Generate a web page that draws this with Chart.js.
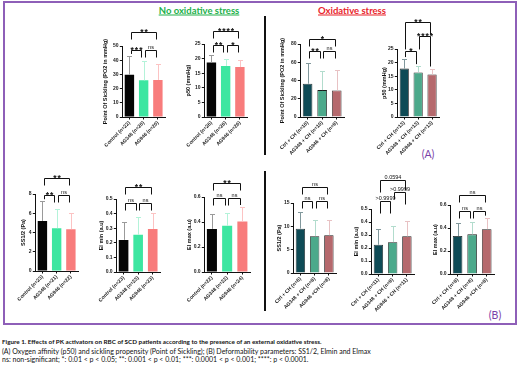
<!DOCTYPE html>
<html><head><meta charset="utf-8">
<script src="https://cdn.jsdelivr.net/npm/chart.js@4/dist/chart.umd.min.js"></script>
<style>
html,body{margin:0;padding:0;background:#fff}
body{width:520px;height:366px;position:relative;overflow:hidden;font-family:"Liberation Sans",Arial,sans-serif}
.frame{position:absolute;left:3px;top:1px;width:514px;height:324px;border:2px solid #8e5fb8;box-sizing:border-box}
.vline{position:absolute;width:1.5px;background:#111}
.ttl{position:absolute;font-family:Lato,"Liberation Sans",sans-serif;font-weight:bold;font-size:9.5px;text-decoration:underline;transform:translate(-50%,-50%);white-space:nowrap}
.tag{position:absolute;font-family:Lato,"Liberation Sans",sans-serif;font-size:10.5px;color:#7a3fa8;transform:translate(-50%,-50%)}
.cap{position:absolute;left:2px;font-family:Lato,"Liberation Sans",sans-serif;font-size:7px;line-height:8px;white-space:nowrap;color:#111}
canvas{position:absolute}
</style>
</head><body>
<div class="frame"></div>
<div class="vline" style="left:264px;top:16px;height:139px"></div>
<div class="vline" style="left:264px;top:171px;height:140px"></div>
<div class="ttl" style="left:199px;top:10px;color:#22b04b">No oxidative stress</div>
<div class="ttl" style="left:352px;top:10px;color:#e8242b">Oxidative stress</div>
<div class="tag" style="left:428px;top:154px">(A)</div>
<div class="tag" style="left:495px;top:315px">(B)</div>
<div class="cap" style="top:338px;font-weight:bold;font-size:6.3px">Figure 1. Effects of PK activators on RBC of SCD patients according to the presence of an external oxidative stress.</div>
<div class="cap" style="top:346.5px">(A) Oxygen affinity (p50) and sickling propensity (Point of Sickling); (B) Deformability parameters: SS1/2, Elmin and Elmax</div>
<div class="cap" style="top:355px">ns: non-significant; *: 0.01 &lt; p &lt; 0.05; **: 0.001 &lt; p &lt; 0.01; ***: 0.0001 &lt; p &lt; 0.001; ****: p &lt; 0.0001.</div>
<script>
// ---------- data ----------
const sickNoLabels = ['Control (n=22)','AG348 (n=20)','AG946 (n=20)'];
const sickNoMean = [29.8, 25.8, 26.1];
const sickNoSD = [13.2, 13.4, 11.4];
const sickNoSig = [[0,1,'***',47],[1,2,'ns',47],[0,2,'**',60]];

const p50NoLabels = ['Control (n=26)','AG348 (n=26)','AG946 (n=26)'];
const p50NoMean = [18.7, 17.5, 17.1];
const p50NoSD = [2.4, 2.2, 2.4];
const p50NoSig = [[0,1,'**',24.7],[1,2,'*',24.7],[0,2,'****',29.5]];

const sickOxLabels = ['Ctrl + CH (n=10)','AG348 + CH (n=10)','AG946 + CH (n=9)'];
const sickOxMean = [36.5, 29.5, 29.0];
const sickOxSD = [22.5, 20.5, 23.0];
const sickOxSig = [[0,1,'**',72],[1,2,'ns',72],[0,2,'*',85.5]];

const p50OxLabels = ['Ctrl + CH (n=13)','AG348 + CH (n=13)','AG946 + CH (n=13)'];
const p50OxMean = [17.8, 16.4, 15.6];
const p50OxSD = [3.5, 2.3, 2.2];
const p50OxSig = [[0,1,'*',24.1],[1,2,'****',29.6],[0,2,'**',34.8]];

const ssNoLabels = ['Control (n=23)','AG348 (n=21)','AG946 (n=22)'];
const ssNoMean = [5.2, 4.45, 4.35];
const ssNoSD = [2.05, 1.95, 1.65];
const ssNoSig = [[0,1,'**',7.9],[1,2,'ns',7.9],[0,2,'**',9.7]];

const eiMinNoLabels = ['Control (n=23)','AG348 (n=23)','AG946 (n=23)'];
const eiMinNoMean = [0.22, 0.255, 0.295];
const eiMinNoSD = [0.125, 0.12, 0.11];
const eiMinNoSig = [[0,1,'ns',0.47],[1,2,'ns',0.47],[0,2,'**',0.58]];

const eiMaxNoLabels = ['Control (n=22)','AG348 (n=22)','AG946 (n=24)'];
const eiMaxNoMean = [0.345, 0.37, 0.405];
const eiMaxNoSD = [0.12, 0.10, 0.115];
const eiMaxNoSig = [[0,1,'ns',0.59],[1,2,'ns',0.59],[0,2,'**',0.71]];

const ssOxLabels = ['Ctrl + CH (n=8)','AG348 + CH (n=8)','AG946 +CH (n=8)'];
const ssOxMean = [9.5, 7.9, 8.1];
const ssOxSD = [3.5, 3.4, 3.3];
const ssOxSig = [[0,1,'ns',15.5],[1,2,'ns',15.5],[0,2,'ns',18.5]];

const eiMinOxLabels = ['Ctrl + CH (n=11)','AG348 + CH (n=9)','AG946 + CH (n=11)'];
const eiMinOxMean = [0.225, 0.245, 0.29];
const eiMinOxSD = [0.12, 0.125, 0.115];
const eiMinOxSig = [[0,1,'>0.9999',0.56],[1,2,'>0.9999',0.63],[0,2,'0.0594',0.72]];

const eiMaxOxLabels = ['Ctrl + CH (n=8)','AG348 + CH (n=8)','AG946 +CH (n=8)'];
const eiMaxOxMean = [0.33, 0.345, 0.39];
const eiMaxOxSD = [0.115, 0.105, 0.10];
const eiMaxOxSig = [[0,1,'ns',0.55],[1,2,'ns',0.55],[0,2,'ns',0.69]];

// ---------- styles ----------
const FONT = '"Liberation Sans", Arial, sans-serif';
const NO_COL = ['#050505','#3de6a1','#f87c7c'];
const NO_ERR = ['#9a9a9a','#b4f3d9','#fcc3c3'];
const OX_COL = ['#0f4b56','#4ca98b','#b5696d'];
const OX_ERR = ['#81989c','#b2dccd','#e8c2c4'];

const errPlugin = {
  id:'err',
  afterDatasetsDraw(chart, args, o){
    if(!o.sd) return;
    const ctx = chart.ctx, ys = chart.scales.y;
    const meta = chart.getDatasetMeta(0);
    const vals = chart.data.datasets[0].data;
    ctx.save(); ctx.lineWidth = 1;
    meta.data.forEach((bar,i)=>{
      const x = Math.round(bar.x)+0.5;
      const top = Math.round(ys.getPixelForValue(vals[i]+o.sd[i]))+0.5;
      ctx.strokeStyle = o.colors[i];
      ctx.beginPath();
      ctx.moveTo(x, bar.y); ctx.lineTo(x, top);
      ctx.moveTo(x-2.5, top); ctx.lineTo(x+2.5, top);
      ctx.stroke();
    });
    ctx.restore();
  }
};

const sigPlugin = {
  id:'sig',
  afterDraw(chart, args, o){
    if(!o.list) return;
    const ctx = chart.ctx, xs = chart.scales.x, ys = chart.scales.y;
    const vals = chart.data.datasets[0].data;
    const tops = vals.map((m,i)=>m+o.sd[i]);
    ctx.save(); ctx.strokeStyle='#111'; ctx.fillStyle='#111'; ctx.lineWidth=1;
    o.list.forEach(([a,b,lab,lev],k)=>{
      const py = Math.round(ys.getPixelForValue(lev))+0.5;
      const xa = Math.round(xs.getPixelForValue(a)+1.2)+0.5;
      const xb = Math.round(xs.getPixelForValue(b)-1.2)-0.5;
      const legEnd = (i)=>{
        let m = tops[i];
        o.list.forEach(([a2,b2,l2,lv2],j)=>{ if(j!==k && lv2<lev && a2<=i && i<=b2) m=Math.max(m,lv2); });
        const pm = ys.getPixelForValue(m);
        return Math.max(py+1, Math.min(py+o.leg, pm-o.gap));
      };
      ctx.beginPath();
      ctx.moveTo(xa, legEnd(a)); ctx.lineTo(xa, py); ctx.lineTo(xb, py); ctx.lineTo(xb, legEnd(b));
      ctx.stroke();
      const cx = (xa+xb)/2;
      ctx.textAlign='center'; ctx.textBaseline='alphabetic';
      if(lab.indexOf('*')>=0){
        ctx.font = 'bold 8.5px '+FONT;
        ctx.letterSpacing = '1px';
        ctx.fillText(lab, cx+0.5, py+2);
        ctx.letterSpacing = '0px';
      } else {
        ctx.font = '5.5px '+FONT;
        ctx.fillText(lab, cx, py-2);
      }
    });
    ctx.restore();
  }
};
Chart.register(errPlugin, sigPlugin);

function makeChart(g){
  const pt=40, padL=22, pr=8, xH=46;
  const yW = g.d + 3.3;
  const cw = Math.round(padL + yW + (g.x1-g.x0) + pr);
  const ch = Math.round(pt + (g.yBot-g.yTop) + xH);
  const cv = document.createElement('canvas');
  cv.width = cw; cv.height = ch;
  cv.style.left = (g.x0 - yW - padL)+'px';
  cv.style.top = (g.yTop - pt)+'px';
  cv.style.width = cw+'px'; cv.style.height = ch+'px';
  document.body.appendChild(cv);
  new Chart(cv, {
    type:'bar',
    data:{ labels:g.labels, datasets:[{ data:g.mean, backgroundColor:g.colors,
      borderColor:g.border||g.colors, borderWidth:g.border?0.8:0,
      barPercentage:0.66, categoryPercentage:1 }]},
    options:{
      responsive:false, animation:false, devicePixelRatio:1,
      layout:{padding:{top:pt,left:padL,right:pr,bottom:0}},
      plugins:{legend:{display:false}, tooltip:{enabled:false},
        err:{sd:g.sd, colors:g.err},
        sig:{list:g.sig, sd:g.sd, leg:g.leg||7, gap:2}},
      scales:{
        x:{ type:'category', offset:true,
          grid:{display:true, drawOnChartArea:false, drawTicks:true, tickLength:2.5, color:'#111', offset:false, lineWidth:1},
          border:{display:true, color:'#111', width:1},
          ticks:{autoSkip:false, maxRotation:45, minRotation:45, padding:0.5, color:'#222',
            font:{size:5, family:FONT, weight:'bold'}},
          afterFit(s){ s.height = xH; s.paddingLeft=0; s.paddingRight=0; }
        },
        y:{ min:0, max:g.max,
          grid:{display:true, drawOnChartArea:false, drawTicks:true, tickLength:2.5, color:'#111', lineWidth:1},
          border:{display:true, color:'#111', width:1},
          ticks:{stepSize:g.step, padding:1.2, color:'#222', font:{size:5, family:FONT, weight:'bold'},
            callback:(v)=> g.dec ? Number(v).toFixed(1) : String(Math.round(v))},
          title:{display:true, text:g.title, color:'#111', padding:0, font:{size:5.5, family:FONT, weight:'bold'}},
          afterFit(s){ s.width = yW; s.paddingTop=0; s.paddingBottom=0; }
        }
      }
    }
  });
}

const OXB = '#1b1b1b';
[
 {labels:sickNoLabels, mean:sickNoMean, sd:sickNoSD, sig:sickNoSig, colors:NO_COL, err:NO_ERR,
  title:'Point Of Sickling (PO2 in mmHg)', max:50, step:10, x0:122, x1:165, yTop:46, yBot:117, d:17},
 {labels:p50NoLabels, mean:p50NoMean, sd:p50NoSD, sig:p50NoSig, colors:NO_COL, err:NO_ERR,
  title:'p50 (mmHg)', max:25, step:5, x0:204, x1:247, yTop:44, yBot:117, d:16},
 {labels:sickOxLabels, mean:sickOxMean, sd:sickOxSD, sig:sickOxSig, colors:OX_COL, err:OX_ERR, border:OXB,
  title:'Point Of Sickling (PO2 in mmHg)', max:80, step:20, x0:300, x1:344, yTop:44, yBot:117, d:18},
 {labels:p50OxLabels, mean:p50OxMean, sd:p50OxSD, sig:p50OxSig, colors:OX_COL, err:OX_ERR, border:OXB,
  title:'p50 (mmHg)', max:25, step:5, x0:397, x1:439, yTop:49, yBot:117, d:13, leg:30},
 {labels:ssNoLabels, mean:ssNoMean, sd:ssNoSD, sig:ssNoSig, colors:NO_COL, err:NO_ERR,
  title:'SS1/2 (Pa)', max:8, step:2, x0:35, x1:78, yTop:194, yBot:271, d:12},
 {labels:eiMinNoLabels, mean:eiMinNoMean, sd:eiMinNoSD, sig:eiMinNoSig, colors:NO_COL, err:NO_ERR,
  title:'EI min (a.u)', max:0.5, step:0.1, dec:true, x0:116, x1:160, yTop:199, yBot:272, d:15},
 {labels:eiMaxNoLabels, mean:eiMaxNoMean, sd:eiMaxNoSD, sig:eiMaxNoSig, colors:NO_COL, err:NO_ERR,
  title:'EI max (a.u)', max:0.6, step:0.2, dec:true, x0:204, x1:250, yTop:197, yBot:272, d:15},
 {labels:ssOxLabels, mean:ssOxMean, sd:ssOxSD, sig:ssOxSig, colors:OX_COL, err:OX_ERR, border:OXB,
  title:'SS1/2 (Pa)', max:15, step:5, x0:293, x1:336, yTop:203, yBot:273, d:14},
 {labels:eiMinOxLabels, mean:eiMinOxMean, sd:eiMinOxSD, sig:eiMinOxSig, colors:OX_COL, err:OX_ERR, border:OXB,
  title:'EI min (a.u)', max:0.5, step:0.1, dec:true, x0:371, x1:414, yTop:209, yBot:274, d:15, leg:12},
 {labels:eiMaxOxLabels, mean:eiMaxOxMean, sd:eiMaxOxSD, sig:eiMaxOxSig, colors:OX_COL, err:OX_ERR, border:OXB,
  title:'EI max (a.u)', max:0.6, step:0.2, dec:true, x0:450, x1:494, yTop:205, yBot:274, d:15}
].forEach(makeChart);
</script>
</body></html>
